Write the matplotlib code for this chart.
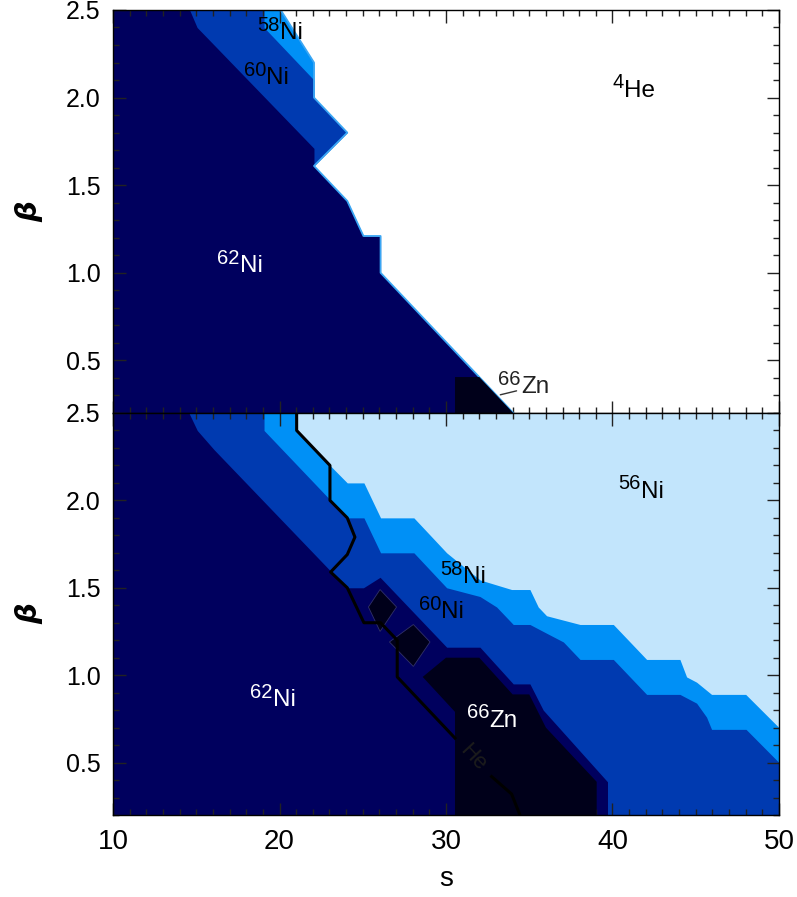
import numpy as np
import matplotlib
matplotlib.use("Agg")
import matplotlib.pyplot as plt
from matplotlib.ticker import MultipleLocator, FormatStrFormatter

plt.rcParams['font.family'] = ['Liberation Sans', 'DejaVu Sans']

# colours of the dominant species
C_ZN66 = '#00001a'
C_NI62 = '#00005e'
C_NI60 = '#003ab0'
C_NI58 = '#0090f6'
C_NI56 = '#c2e5fc'
C_HE4 = '#ffffff'

# ---- top panel: region boundaries (beta, s) ----
top_b58_beta = [2.5, 2.2, 2.0]
top_b58_s = [20.07, 22.07, 22.07]

top_b60_beta = [2.5, 2.4, 2.1, 2.0, 1.8, 1.61]
top_b60_s = [19.07, 19.07, 22.07, 22.07, 24.07, 22.07]

top_b62_beta = [2.5, 2.4, 2.3, 1.71, 1.61, 1.41, 1.21, 1.21, 1.0, 0.2]
top_b62_s = [14.6, 15.05, 16.07, 22.07, 22.07, 24.07, 25.04, 26.07, 26.07, 34.04]

# outer edge of the coloured area (next to 4He)
top_edge_beta = [2.5, 2.2, 2.0, 1.8, 1.61, 1.41, 1.21, 1.21, 1.0, 0.2]
top_edge_s = [20.07, 22.07, 22.07, 24.07, 22.07, 24.07, 25.04, 26.07, 26.07, 34.04]

top_zn_s = [30.54, 30.54, 32.0, 34.04]
top_zn_beta = [0.2, 0.405, 0.405, 0.2]

# ---- bottom panel ----
bot_b58_beta = [2.5, 2.4, 2.2, 2.1, 2.1, 1.9, 1.9, 1.7, 1.545, 1.49, 1.49, 1.39, 1.34,
                1.29, 1.29, 1.09, 1.09, 0.99, 0.96, 0.89, 0.89, 0.70, 0.2]
bot_b58_s = [21.03, 21.03, 23.03, 24.07, 25.07, 26.07, 28.07, 30.04, 32.04, 33.94, 35.04,
             35.54, 36.04, 38.05, 40.05, 42.05, 44.05, 44.45, 45.05, 45.95, 48.0, 50.0, 50.0]

bot_b60_beta = [2.5, 2.4, 1.9, 1.9, 1.7, 1.7, 1.5, 1.45, 1.39, 1.29, 1.29, 1.24, 1.19,
                1.09, 1.09, 0.89, 0.89, 0.84, 0.76, 0.69, 0.69, 0.50, 0.2]
bot_b60_s = [19.07, 19.07, 24.07, 25.07, 26.07, 28.07, 30.04, 32.04, 33.04, 34.04, 35.04,
             36.04, 37.05, 38.05, 40.05, 42.05, 44.05, 45.05, 45.65, 45.95, 48.02, 50.0, 50.0]

bot_b62_beta = [2.5, 2.4, 2.29, 1.5, 1.5, 1.56, 1.16, 1.16, 0.95, 0.95, 0.80, 0.39, 0.2]
bot_b62_s = [14.56, 15.06, 16.07, 24.03, 25.04, 26.04, 30.04, 32.04, 34.04, 35.04, 35.84,
             39.7, 39.7]

bot_zn_s = [28.6, 30.0, 32.0, 34.0, 35.0, 36.0, 39.05, 39.05, 30.54, 30.54]
bot_zn_beta = [0.99, 1.10, 1.10, 0.89, 0.89, 0.70, 0.39, 0.2, 0.2, 0.79]

island1_s = [26.04, 27.03, 26.04, 25.34]
island1_beta = [1.49, 1.39, 1.25, 1.39]
island2_s = [28.04, 29.04, 28.04, 26.6]
island2_beta = [1.29, 1.19, 1.05, 1.19]

# He contour (gap where the label sits)
he_s = [21.03, 21.03, 23.03, 23.03, 24.07, 24.53, 24.07, 23.07, 24.07, 25.07, 26.07,
        27.07, 27.07, 30.54, np.nan, 32.74, 33.94, 34.44]
he_beta = [2.5, 2.4, 2.2, 2.0, 1.9, 1.79, 1.69, 1.59, 1.5, 1.3, 1.3,
           1.2, 0.99, 0.64, np.nan, 0.42, 0.32, 0.2]

# species labels: (mass number, element, s, beta, colour)
top_labels = [('58', 'Ni', 20.0, 2.37, 'black'),
              ('60', 'Ni', 19.2, 2.11, 'black'),
              ('4', 'He', 40.7, 2.04, 'black'),
              ('62', 'Ni', 17.6, 1.04, 'white'),
              ('66', 'Zn', 34.5, 0.35, '#222222')]
bot_labels = [('56', 'Ni', 41.7, 2.05, 'black'),
              ('58', 'Ni', 31.0, 1.56, 'black'),
              ('60', 'Ni', 29.7, 1.36, 'black'),
              ('62', 'Ni', 19.6, 0.86, 'white'),
              ('66', 'Zn', 32.6, 0.74, 'white')]

S_MIN, S_MAX = 10, 50
B_MIN, B_MAX = 0.2, 2.5

fig = plt.figure(figsize=(7.97, 8.97), dpi=100)
ax_top = fig.add_axes([0.1418, 0.5396, 0.8356, 0.4493])
ax_bot = fig.add_axes([0.1418, 0.0914, 0.8356, 0.4482])


def fill_left(ax, beta, s, color):
    ax.fill_betweenx(beta, S_MIN, s, color=color, lw=0, zorder=1)


def species(ax, mass, elem, s, beta, color):
    # mass number raised and slightly smaller, element on the baseline
    ax.annotate(mass, (s, beta), xytext=(0, 5.5), textcoords='offset points',
                ha='right', va='center', fontsize=14.5, color=color, zorder=6)
    ax.annotate(elem, (s, beta), xytext=(0, 0), textcoords='offset points',
                ha='left', va='center', fontsize=17.5, color=color, zorder=6)


# top panel
ax_top.set_facecolor(C_HE4)
fill_left(ax_top, top_b58_beta, top_b58_s, C_NI58)
fill_left(ax_top, top_b60_beta, top_b60_s, C_NI60)
fill_left(ax_top, top_b62_beta, top_b62_s, C_NI62)
ax_top.plot(top_edge_s, top_edge_beta, color='#3aa6f4', lw=1.3, zorder=2)
ax_top.fill(top_zn_s, top_zn_beta, color=C_ZN66, lw=0, zorder=3)
ax_top.annotate('', xy=(33.1, 0.30), xytext=(34.4, 0.33),
                arrowprops=dict(arrowstyle='-', color='#333333', lw=1), zorder=6)

# bottom panel
ax_bot.set_facecolor(C_NI56)
fill_left(ax_bot, bot_b58_beta, bot_b58_s, C_NI58)
fill_left(ax_bot, bot_b60_beta, bot_b60_s, C_NI60)
fill_left(ax_bot, bot_b62_beta, bot_b62_s, C_NI62)
ax_bot.fill(bot_zn_s, bot_zn_beta, color=C_ZN66, lw=0, zorder=3)
ax_bot.fill(island1_s, island1_beta, color=C_ZN66, lw=0.6, ec='#30306a', zorder=3)
ax_bot.fill(island2_s, island2_beta, color=C_ZN66, lw=0.6, ec='#30306a', zorder=3)
ax_bot.plot(he_s, he_beta, color='black', lw=2.2, zorder=4)
ax_bot.text(31.6, 0.53, 'He', rotation=-47, color='#1c1c1c', fontsize=16,
            ha='center', va='center', zorder=5)

for lab in top_labels:
    species(ax_top, *lab)
for lab in bot_labels:
    species(ax_bot, *lab)

for ax in (ax_top, ax_bot):
    ax.set_xlim(S_MIN, S_MAX)
    ax.set_ylim(B_MIN, B_MAX)
    ax.xaxis.set_major_locator(MultipleLocator(10))
    ax.xaxis.set_minor_locator(MultipleLocator(1))
    ax.yaxis.set_major_locator(MultipleLocator(0.5))
    ax.yaxis.set_minor_locator(MultipleLocator(0.1))
    ax.yaxis.set_major_formatter(FormatStrFormatter('%.1f'))
    ax.tick_params(which='both', direction='in', top=True, right=True,
                   color='#222222', width=1)
    ax.tick_params(which='major', length=9, labelsize=18, pad=9)
    ax.tick_params(which='minor', length=4.5)
    ax.set_ylabel('β', fontsize=21, fontstyle='italic', fontweight='bold',
                  family='DejaVu Sans', labelpad=16)
    for sp in ax.spines.values():
        sp.set_linewidth(1)
        sp.set_zorder(10)

ax_top.tick_params(labelbottom=False)
ax_bot.tick_params(axis='x', labelsize=20, pad=10)
ax_bot.set_xlabel('s', fontsize=20, labelpad=8)

fig.savefig('out.png', dpi=100)
